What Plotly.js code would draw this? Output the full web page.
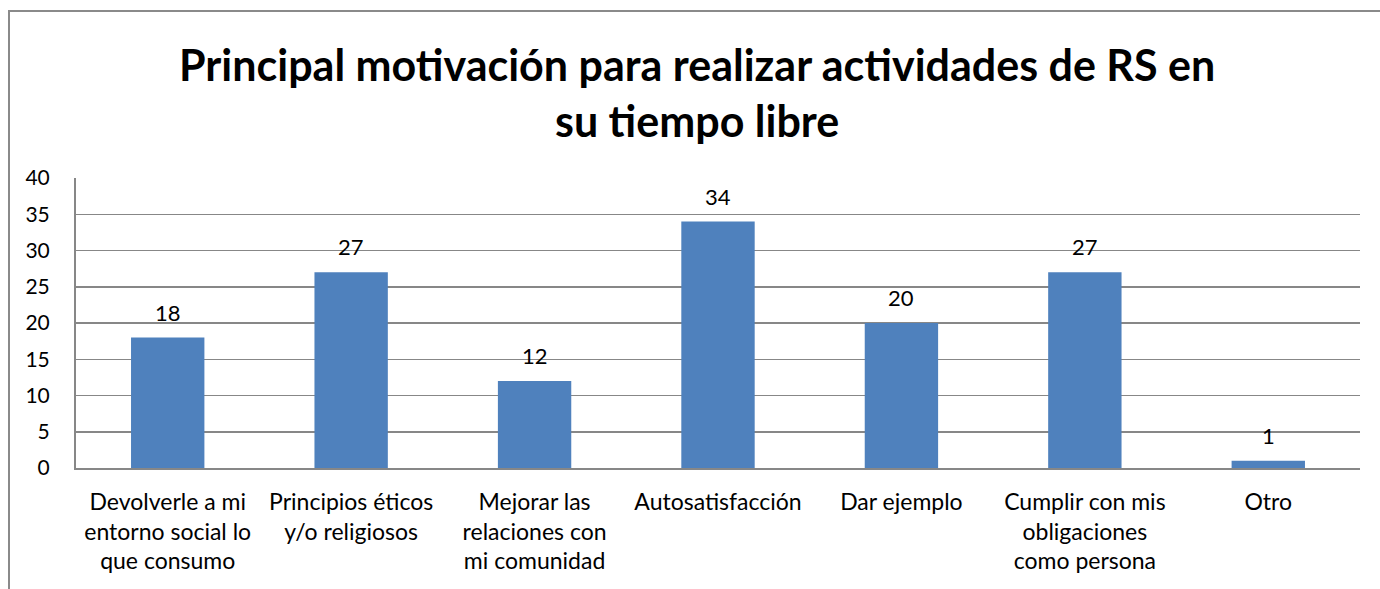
<!DOCTYPE html>
<html>
<head>
<meta charset="utf-8">
<script src="https://cdn.plot.ly/plotly-3.0.1.min.js"></script>
<style>html,body{margin:0;padding:0;background:#fff;}#chart{width:1380px;height:589px;}</style>
</head>
<body>
<div id="chart"></div>
<script>
const categories = [
  "Devolverle a mi<br>entorno social lo<br>que consumo",
  "Principios éticos<br>y/o religiosos",
  "Mejorar las<br>relaciones con<br>mi comunidad",
  "Autosatisfacción",
  "Dar ejemplo",
  "Cumplir con mis<br>obligaciones<br>como persona",
  "Otro"
];
const values = [18, 27, 12, 34, 20, 27, 1];
const yTicks = [0, 5, 10, 15, 20, 25, 30, 35, 40];
const titleText = "Principal motivación para realizar actividades de RS en<br>su tiempo libre";

const FONT = "Lato, 'Open Sans', sans-serif";
const GRID = "#878787";

const annotations = categories.map((c, i) => ({
  x: c, y: values[i], xref: "x", yref: "y",
  text: String(values[i]), showarrow: false,
  yanchor: "bottom", yshift: 10,
  font: {family: FONT, size: 22, color: "#000"}
}));
annotations.push({
  xref: "paper", yref: "paper", x: (697 - 76) / 1284, y: 1 + (178 - 93) / 290,
  xanchor: "center", yanchor: "middle", showarrow: false,
  text: "<b>" + titleText + "</b>",
  font: {family: FONT, size: 43, color: "#000"}
});

const layout = {
  width: 1380, height: 589,
  margin: {l: 76, r: 20, t: 178, b: 121},
  paper_bgcolor: "#fff", plot_bgcolor: "#fff",
  showlegend: false,
  bargap: 0.6,
  xaxis: {
    type: "category", showgrid: false, showline: true, linecolor: GRID, linewidth: 2,
    ticks: "", ticklabelstandoff: 12,
    tickfont: {family: FONT, size: 23, color: "#000"}, fixedrange: true
  },
  yaxis: {
    range: [0, 40], tickvals: yTicks, ticktext: yTicks.map(String),
    showgrid: true, gridcolor: GRID, gridwidth: 1.5,
    showline: true, linecolor: GRID, linewidth: 2, zeroline: false,
    ticks: "", ticklabelstandoff: 20,
    tickfont: {family: FONT, size: 21, color: "#000"}, fixedrange: true
  },
  annotations: annotations,
  shapes: [{
    type: "rect", xref: "paper", yref: "paper",
    x0: (9 - 76) / 1284, x1: (1390 - 76) / 1284,
    y0: (468 - 600) / 290, y1: 1 + (178 - 11) / 290,
    line: {color: "#8a8a8a", width: 2}, fillcolor: "rgba(0,0,0,0)", layer: "above"
  }]
};

Plotly.newPlot("chart", [{
  type: "bar", x: categories, y: values,
  marker: {color: "#4f81bd", line: {width: 0}},
  hoverinfo: "none"
}], layout, {staticPlot: true, displayModeBar: false});
</script>
</body>
</html>
